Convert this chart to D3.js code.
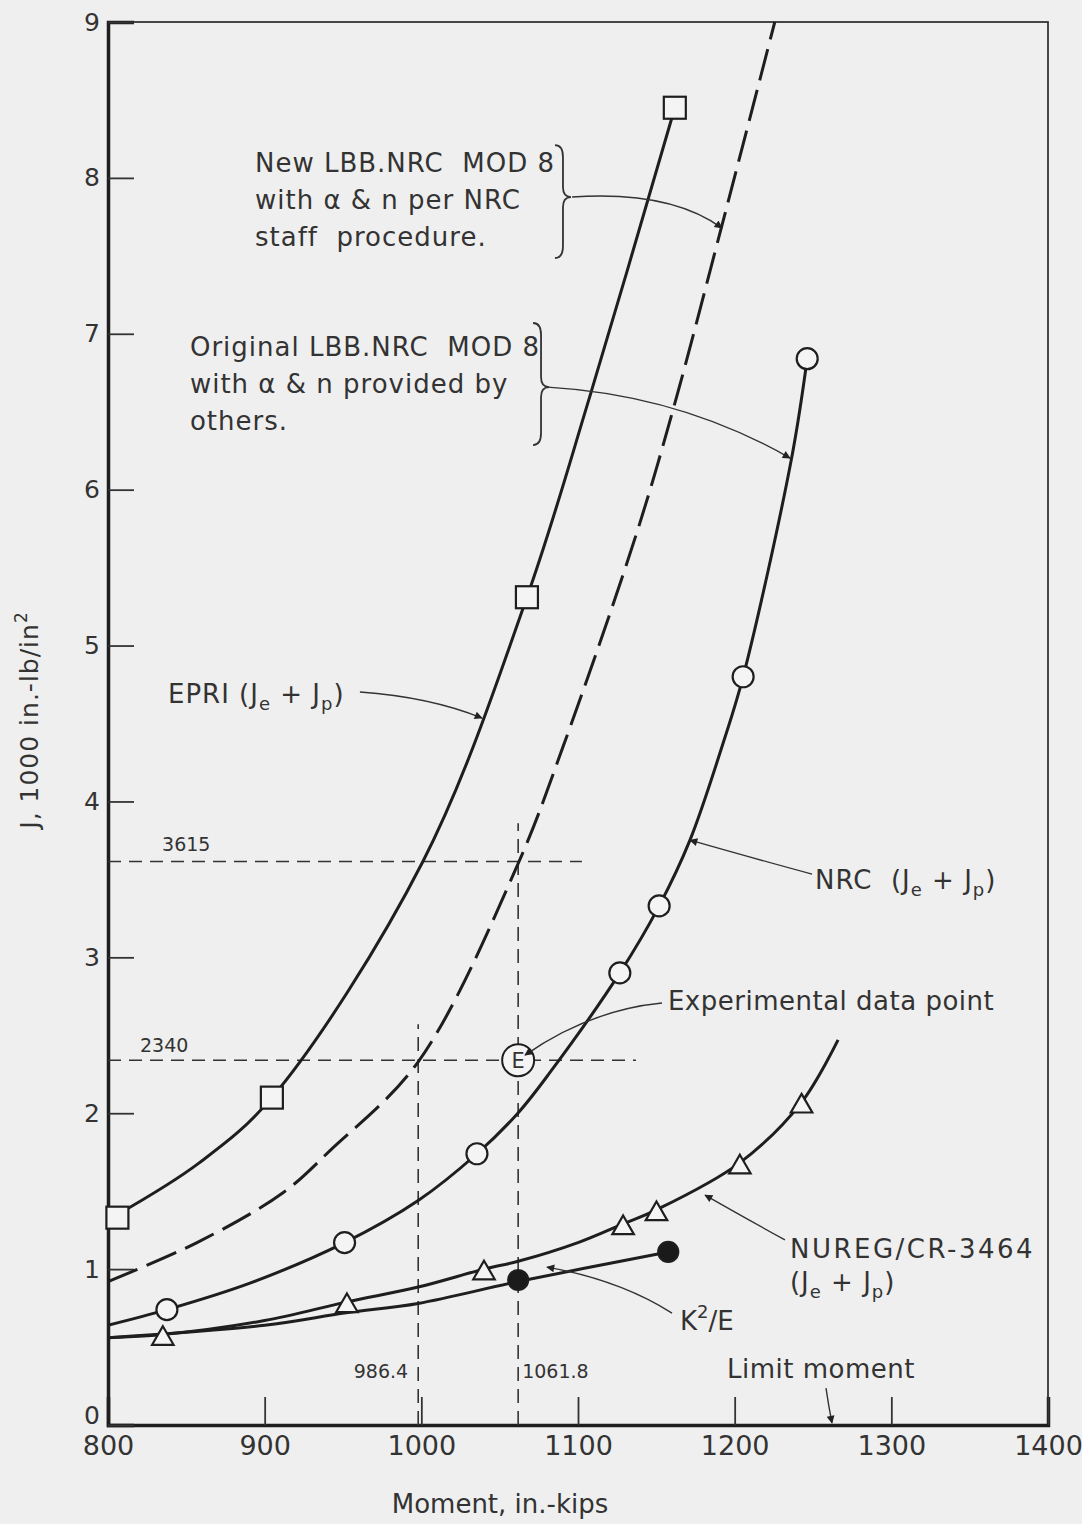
<!DOCTYPE html>
<html>
<head>
<meta charset="utf-8">
<script src="https://cdn.jsdelivr.net/npm/d3@7"></script>
<style>
  body { margin: 0; background: #efefef; }
  svg { display: block; }
  text { font-family: "DejaVu Sans", sans-serif; fill: #333; white-space: pre; }
</style>
</head>
<body>
<div id="chart"></div>
<script>
// tick values
const xTicks = [800, 900, 1000, 1100, 1200, 1300, 1400];
const yTicks = [0, 1, 2, 3, 4, 5, 6, 7, 8, 9];

// EPRI (Je + Jp) curve, squares
const epriM = [806, 858, 904.6, 1001, 1067.4, 1107.6, 1161.8];
const epriJ = [1.35, 1.68, 2.10, 3.615, 5.31, 6.60, 8.45];
const epriPtM = [806, 904.6, 1067.4, 1161.8];
const epriPtJ = [1.33, 2.10, 5.31, 8.45];

// New LBB.NRC MOD 8 (dashed)
const newM = [800, 856.8, 911.7, 941.7, 998, 1061.7, 1090.4, 1137.4, 1160.6, 1192, 1225.6];
const newJ = [0.92, 1.17, 1.49, 1.76, 2.33, 3.6, 4.35, 5.72, 6.51, 7.70, 9.0];

// NRC (Je + Jp) curve, circles
const nrcM = [800, 837.6, 890.6, 951, 998, 1035.5, 1061.6, 1082, 1126.7, 1151.8, 1171.4, 1192.5, 1205.4, 1236.3, 1246.3];
const nrcJ = [0.64, 0.74, 0.91, 1.17, 1.44, 1.74, 2.0, 2.26, 2.90, 3.33, 3.75, 4.37, 4.80, 6.2, 6.84];
const nrcPtM = [837.6, 951, 1035.5, 1126.7, 1151.8, 1205.4, 1246.3];
const nrcPtJ = [0.74, 1.17, 1.74, 2.90, 3.33, 4.80, 6.84];

// NUREG/CR-3464 curve, triangles
const nuregM = [800, 835, 900, 952.5, 998, 1040, 1061.8, 1100, 1128.8, 1150, 1203, 1242.7, 1266];
const nuregJ = [0.56, 0.58, 0.67, 0.79, 0.885, 1.0, 1.05, 1.17, 1.29, 1.38, 1.68, 2.07, 2.47];
const nuregPtM = [835, 952.5, 1040, 1128.8, 1150.1, 1203.3, 1242.7];
const nuregPtJ = [0.58, 0.79, 1.0, 1.29, 1.38, 1.68, 2.07];

// K^2/E curve, filled dots
const kM = [800, 900, 952, 998, 1061.8, 1157.6];
const kJ = [0.56, 0.64, 0.72, 0.78, 0.92, 1.11];
const kPtM = [1061.8, 1157.6];
const kPtJ = [0.93, 1.11];

// experimental point
const expM = 1061.8, expJ = 2.34;

// reference lines
const hRefJ = [3.615, 2.34];
const hRefEnd = [1102.5, 1137];
const hRefLabel = ["3615", "2340"];
const vRefM = [998, 1061.8];
const vRefTop = [2.57, 3.86];
const vRefLabel = ["986.4", "1061.8"];

const W = 1082, H = 1524;
const x = d3.scaleLinear().domain([800, 1400]).range([108, 1048]);
const y = d3.scaleLinear().domain([0, 9]).range([1425, 22]);

const svg = d3.select("#chart").append("svg")
  .attr("width", W).attr("height", H)
  .style("background", "#efefef");

const defs = svg.append("defs");
defs.append("marker")
  .attr("id", "arr")
  .attr("viewBox", "0 0 10 10")
  .attr("refX", 9).attr("refY", 5)
  .attr("markerWidth", 15).attr("markerHeight", 8)
  .attr("markerUnits", "userSpaceOnUse")
  .attr("orient", "auto")
  .append("path").attr("d", "M0,0L10,5L0,10Z").attr("fill", "#222");

const ink = "#1e1e1e";

// frame
svg.append("rect")
  .attr("x", x(800)).attr("y", y(9))
  .attr("width", x(1400) - x(800)).attr("height", y(0) - y(9))
  .attr("fill", "none").attr("stroke", "#333").attr("stroke-width", 1.8);

// axes with inward ticks
const xAxis = svg.append("g")
  .attr("transform", `translate(0,${y(0)})`)
  .call(d3.axisBottom(x).tickValues(xTicks).tickSize(-28).tickPadding(11).tickFormat(d3.format("d")));
const yAxis = svg.append("g")
  .attr("transform", `translate(${x(800)},0)`)
  .call(d3.axisLeft(y).tickValues(yTicks).tickSize(-26).tickPadding(8).tickFormat(d3.format("d")));
[xAxis, yAxis].forEach(g => {
  g.select(".domain").attr("stroke", ink).attr("stroke-width", 3.5);
  g.selectAll(".tick line").attr("stroke", "#333").attr("stroke-width", 1.8);
  g.selectAll(".tick text").attr("fill", "#333")
    .style("font-family", "DejaVu Sans, sans-serif");
});
xAxis.selectAll(".tick text").attr("font-size", 27);
yAxis.selectAll(".tick text").attr("font-size", 25);
yAxis.select(".tick text").attr("dy", "-0.05em");

// axis titles
svg.append("text")
  .attr("x", 500).attr("y", 1513)
  .attr("text-anchor", "middle").attr("font-size", 26)
  .text("Moment, in.-kips");
const yt = svg.append("text")
  .attr("transform", "translate(38,720) rotate(-90)")
  .attr("text-anchor", "middle").attr("font-size", 25).attr("letter-spacing", 1);
yt.append("tspan").text("J, 1000 in.-lb/in");
yt.append("tspan").attr("font-size", 17).attr("dy", -11).text("2");

// reference dashed lines
const refG = svg.append("g").attr("stroke", "#333").attr("stroke-width", 1.6).attr("fill", "none");
hRefJ.forEach((j, i) => {
  refG.append("line")
    .attr("x1", x(800)).attr("x2", x(hRefEnd[i]))
    .attr("y1", y(j)).attr("y2", y(j))
    .attr("stroke-dasharray", "13,8");
});
vRefM.forEach((m, i) => {
  refG.append("line")
    .attr("x1", x(m)).attr("x2", x(m))
    .attr("y1", y(0)).attr("y2", y(vRefTop[i]))
    .attr("stroke-dasharray", "14,8");
});
svg.append("text").attr("x", x(834.5)).attr("y", y(3.615) - 10).attr("font-size", 19).text(hRefLabel[0]);
svg.append("text").attr("x", x(820.4)).attr("y", y(2.34) - 8).attr("font-size", 19).text(hRefLabel[1]);
svg.append("text").attr("x", x(vRefM[0]) - 10).attr("y", y(0.30)).attr("text-anchor", "end").attr("font-size", 19).text(vRefLabel[0]);
svg.append("text").attr("x", x(vRefM[1]) + 4).attr("y", y(0.30)).attr("font-size", 19).text(vRefLabel[1]);

// curves
const line = d3.line()
  .x(d => x(d[0])).y(d => y(d[1]))
  .curve(d3.curveCatmullRom.alpha(0.5));
const zip = (a, b) => a.map((v, i) => [v, b[i]]);

const curves = [
  { pts: zip(epriM, epriJ), dash: null },
  { pts: zip(newM, newJ), dash: "32,10" },
  { pts: zip(nrcM, nrcJ), dash: null },
  { pts: zip(nuregM, nuregJ), dash: null },
  { pts: zip(kM, kJ), dash: null }
];
svg.append("g").selectAll("path")
  .data(curves)
  .join("path")
  .attr("d", d => line(d.pts))
  .attr("fill", "none")
  .attr("stroke", ink)
  .attr("stroke-width", 3)
  .attr("stroke-dasharray", d => d.dash);

// markers
const mk = svg.append("g").attr("stroke", ink).attr("stroke-width", 2.2);
mk.selectAll(".sq").data(zip(epriPtM, epriPtJ)).join("rect")
  .attr("x", d => x(d[0]) - 11).attr("y", d => y(d[1]) - 11)
  .attr("width", 22).attr("height", 22).attr("fill", "#f4f4f4");
mk.selectAll(".ci").data(zip(nrcPtM, nrcPtJ)).join("circle")
  .attr("cx", d => x(d[0])).attr("cy", d => y(d[1])).attr("r", 10.5).attr("fill", "#f4f4f4");
const tri = d3.symbol().type(d3.symbolTriangle).size(200);
mk.selectAll(".tr").data(zip(nuregPtM, nuregPtJ)).join("path")
  .attr("d", tri)
  .attr("transform", d => `translate(${x(d[0])},${y(d[1]) + 4})`)
  .attr("fill", "#f4f4f4");
mk.selectAll(".dot").data(zip(kPtM, kPtJ)).join("circle")
  .attr("cx", d => x(d[0])).attr("cy", d => y(d[1])).attr("r", 10).attr("fill", "#1a1a1a");

// experimental point
svg.append("circle").attr("cx", x(expM)).attr("cy", y(expJ)).attr("r", 16)
  .attr("fill", "#f4f4f4").attr("stroke", ink).attr("stroke-width", 2);
svg.append("text").attr("x", x(expM)).attr("y", y(expJ) + 8)
  .attr("text-anchor", "middle").attr("font-size", 21).text("E");

// braces
function brace(m, jTop, jBot, jMid) {
  const x0 = x(m), y0 = y(jTop), y1 = y(jBot), ym = y(jMid), w = 8;
  const p = d3.path();
  p.moveTo(x0, y0);
  p.quadraticCurveTo(x0 + w, y0, x0 + w, y0 + 12);
  p.lineTo(x0 + w, ym - 10);
  p.quadraticCurveTo(x0 + w, ym, x0 + 2 * w, ym);
  p.quadraticCurveTo(x0 + w, ym, x0 + w, ym + 10);
  p.lineTo(x0 + w, y1 - 12);
  p.quadraticCurveTo(x0 + w, y1, x0, y1);
  svg.append("path").attr("d", p.toString())
    .attr("fill", "none").attr("stroke", "#333").attr("stroke-width", 1.8);
}
brace(1085.3, 8.21, 7.486, 7.877);
brace(1071.3, 7.069, 6.286, 6.658);

// leader arrows: [start, control, end] in data units
const leaders = [
  [[1096.2, 7.877], [1158.7, 7.92], [1191.9, 7.678]],
  [[1080.8, 6.658], [1165.1, 6.607], [1235.3, 6.203]],
  [[960.8, 4.702], [1005.5, 4.67], [1038.7, 4.535]],
  [[1249.4, 3.534], [1216.2, 3.624], [1171.5, 3.752]],
  [[1153.6, 2.707], [1107.6, 2.662], [1066.2, 2.373]],
  [[1232.1, 1.187], [1203.4, 1.347], [1181.1, 1.475]],
  [[1160.0, 0.718], [1126.8, 0.93], [1080.2, 1.013]],
  [[1258.3, 0.237], [1260.0, 0.12], [1262.1, 0.013]]
];
leaders.forEach(l => {
  const p = d3.path();
  p.moveTo(x(l[0][0]), y(l[0][1]));
  p.quadraticCurveTo(x(l[1][0]), y(l[1][1]), x(l[2][0]), y(l[2][1]));
  svg.append("path").attr("d", p.toString())
    .attr("fill", "none").attr("stroke", "#333").attr("stroke-width", 1.4)
    .attr("marker-end", "url(#arr)");
});

// text annotations
const fs = 26, sub = 18;
const notes = [
  { lines: ["New LBB.NRC  MOD 8", "with \u03b1 & n per NRC", "staff  procedure."], m: 893.8, j: 8.04 },
  { lines: ["Original LBB.NRC  MOD 8", "with \u03b1 & n provided by", "others."], m: 852.3, j: 6.86 }
];
notes.forEach(n => {
  const t = svg.append("text").attr("x", x(n.m)).attr("y", y(n.j))
    .attr("font-size", fs).attr("letter-spacing", 1);
  n.lines.forEach((s, i) => t.append("tspan").attr("x", x(n.m)).attr("dy", i ? 37 : 0).text(s));
});

function jLabel(name, m, j) {
  const t = svg.append("text").attr("x", x(m)).attr("y", y(j))
    .attr("font-size", fs).attr("letter-spacing", 1);
  t.append("tspan").text(name + "(J");
  t.append("tspan").attr("font-size", sub).attr("dy", 7).text("e");
  t.append("tspan").attr("dy", -7).text(" + J");
  t.append("tspan").attr("font-size", sub).attr("dy", 7).text("p");
  t.append("tspan").attr("dy", -7).text(")");
}
jLabel("EPRI ", 838.3, 4.63);
jLabel("NRC  ", 1251.3, 3.44);
svg.append("text").attr("x", x(1157.4)).attr("y", y(2.66))
  .attr("font-size", fs).attr("letter-spacing", 0.5).text("Experimental data point");
svg.append("text").attr("x", x(1235.3)).attr("y", y(1.07))
  .attr("font-size", fs).attr("letter-spacing", 2.5).text("NUREG/CR-3464");
jLabel("", 1235.3, 0.86);
const kt = svg.append("text").attr("x", x(1165.1)).attr("y", y(0.61)).attr("font-size", fs);
kt.append("tspan").text("K");
kt.append("tspan").attr("font-size", sub).attr("dy", -12).text("2");
kt.append("tspan").attr("dy", 12).text("/E");
svg.append("text").attr("x", x(1195.1)).attr("y", y(0.30))
  .attr("font-size", fs).attr("letter-spacing", 0.5).text("Limit moment");
</script>
</body>
</html>
